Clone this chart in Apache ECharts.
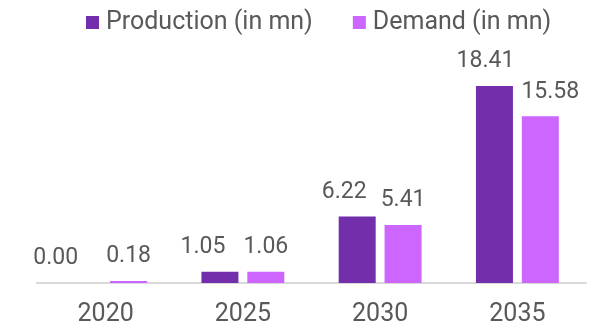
<!DOCTYPE html>
<html>
<head>
<meta charset="utf-8">
<style>
  html, body { margin: 0; padding: 0; background: #ffffff; }
  #chart { width: 606px; height: 328px; }
</style>
<script src="https://cdn.jsdelivr.net/npm/echarts@6/dist/echarts.min.js"></script>
</head>
<body>
<div id="chart"></div>
<script>
// Production vs. demand outlook, millions of units
const years = ['2020', '2025', '2030', '2035'];
const production = [0.00, 1.05, 6.22, 18.41];
const demand = [0.18, 1.06, 5.41, 15.58];
const seriesNames = ['Production (in mn)', 'Demand (in mn)'];

// Horizontal nudges (px) that keep neighbouring value labels apart
const productionLabelShift = [-27, -17, -13, -9];
const demandLabelShift = [0, 0, 0, 10];

const textColor = '#595959';
const fontFamily = 'Roboto, "Noto Sans", sans-serif';

const chart = echarts.init(document.getElementById('chart'), null, { renderer: 'canvas' });

function valueLabel() {
  return {
    show: true,
    position: 'top',
    distance: 13,
    color: textColor,
    fontFamily: fontFamily,
    fontSize: 23,
    formatter: p => p.value.toFixed(2)
  };
}

function withShift(values, shifts) {
  return values.map((v, i) => ({ value: v, label: { offset: [shifts[i], 0] } }));
}

chart.setOption({
  animation: false,
  legend: {
    top: 5,
    left: 81,
    itemWidth: 13,
    itemHeight: 13,
    itemGap: 40,
    icon: 'rect',
    textStyle: { color: textColor, fontFamily: fontFamily, fontSize: 25, padding: [0, 0, 0, 2] },
    data: seriesNames
  },
  grid: { left: 37, right: 20, top: 69, bottom: 45 },
  xAxis: {
    type: 'category',
    data: years,
    axisLine: { lineStyle: { color: '#d9d9d9', width: 2 } },
    axisTick: { show: false },
    axisLabel: { color: textColor, fontFamily: fontFamily, fontSize: 25, margin: 19 }
  },
  yAxis: {
    type: 'value',
    min: 0,
    max: 20,
    show: false,
    splitLine: { show: false }
  },
  series: [
    {
      name: seriesNames[0],
      type: 'bar',
      data: withShift(production, productionLabelShift),
      barWidth: 37,
      barGap: '24%',
      itemStyle: { color: '#722eab' },
      label: valueLabel()
    },
    {
      name: seriesNames[1],
      type: 'bar',
      data: withShift(demand, demandLabelShift),
      barWidth: 37,
      itemStyle: { color: '#cc66ff' },
      label: valueLabel()
    }
  ]
});
</script>
</body>
</html>
